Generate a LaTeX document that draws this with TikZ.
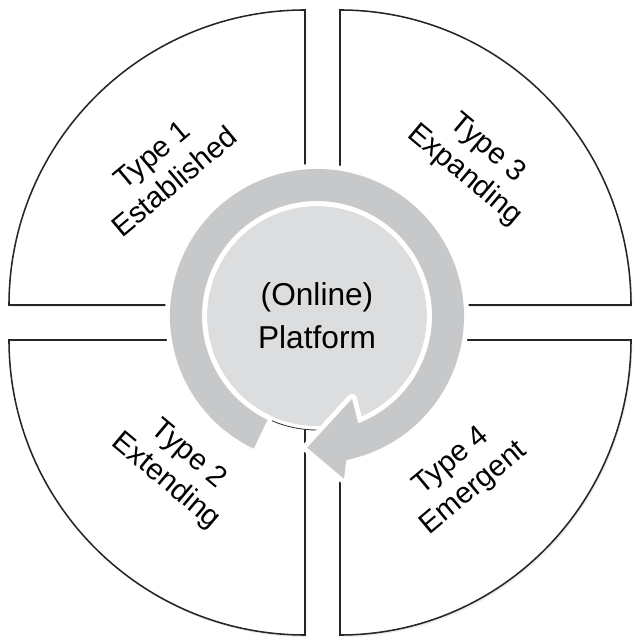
\documentclass[tikz,border=0pt]{standalone}
\usepackage{fontspec}
\setmainfont{Liberation Sans}
\usetikzlibrary{shadows}
\definecolor{ringgrey}{RGB}{199,200,202}
\definecolor{coregrey}{RGB}{220,221,223}

\begin{document}
\begin{tikzpicture}[x=0.025cm, y=0.025cm,
  quad/.style={draw=black!85, line width=1.1pt, fill=white,
    drop shadow={opacity=0.15, shadow xshift=1pt, shadow yshift=-1.5pt}},
  typelabel/.style={align=center, font=\fontsize{21}{25}\selectfont}]
\useasboundingbox (0,0) rectangle (633,639);
\coordinate (tl) at (305,334);
\coordinate (tr) at (340,334);
\coordinate (bl) at (305,299);
\coordinate (br) at (340,299);
\coordinate (c) at (317,323);
% four quarters
\draw[quad] (tl) -- ++(-296,0) arc[start angle=180, end angle=90, x radius=296, y radius=295] -- cycle;
\draw[quad] (tr) -- ++(0,295) arc[start angle=90, end angle=0, x radius=291, y radius=295] -- cycle;
\draw[quad] (bl) -- ++(0,-295) arc[start angle=270, end angle=180, x radius=296, y radius=295] -- cycle;
\draw[quad] (br) -- ++(291,0) arc[start angle=0, end angle=-90, x radius=291, y radius=295] -- cycle;
% platform and cycle arrow
\draw[black!80, line width=0.6pt, fill=white] (c) circle[radius=114];
\fill[coregrey] (c) circle[radius=110];
\begin{scope}[shift={(c)}]
\fill[ringgrey, preaction={draw=white, line width=0.25cm, line join=round}]
  (244.5:147) arc[start angle=244.5, end angle=-78.5, radius=147]
  -- (-80.6:165) -- (-94.3:132) -- (-67.1:90) -- (-69:115)
  arc[start angle=-69, end angle=244.5, radius=115] -- cycle;
\end{scope}
\node[align=center, font=\fontsize{22.5}{30.5}\selectfont] (platform) at (c) {(Online)\\Platform};
% labels
\node[typelabel, rotate=40] (type1) at (163,471) {Type 1\\Established};
\node[typelabel, rotate=-40] (type3) at (476,477) {Type 3\\Expanding};
\node[typelabel, rotate=-40] (type2) at (177,171) {Type 2\\Extending};
\node[typelabel, rotate=40] (type4) at (463,164) {Type 4\\Emergent};
\end{tikzpicture}
\end{document}
